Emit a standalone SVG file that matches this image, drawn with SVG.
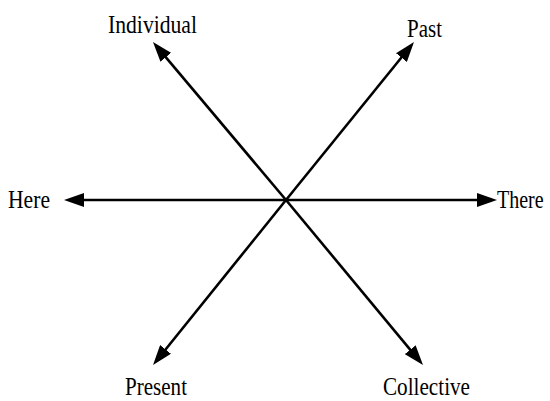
<svg xmlns="http://www.w3.org/2000/svg" width="550" height="401" viewBox="0 0 550 401">
<style>
.lbl{font-family:"Liberation Serif","Times New Roman",serif;font-size:25px;fill:#000}
.ax{stroke:#000;stroke-width:2.6;fill:none;marker-end:url(#ah)}
</style>
<defs>
<marker id="ah" markerUnits="userSpaceOnUse" markerWidth="20" markerHeight="14" refX="10" refY="7" orient="auto" viewBox="0 0 20 14">
<path d="M0,0 L20,7 L0,14 z" fill="#000"/>
</marker>
</defs>
<rect width="550" height="401" fill="#fff"/>
<g id="connectors">
<line class="ax" x1="286" y1="200" x2="159.4" y2="49.7"/>
<line class="ax" x1="286" y1="200" x2="407.7" y2="49.8"/>
<line class="ax" x1="286" y1="200" x2="74" y2="200"/>
<line class="ax" x1="286" y1="200" x2="487" y2="200"/>
<line class="ax" x1="286" y1="200" x2="159.3" y2="357.2"/>
<line class="ax" x1="286" y1="200" x2="416.6" y2="357.3"/>
</g>
<g id="individual"><text class="lbl" x="108" y="33" textLength="89" lengthAdjust="spacingAndGlyphs">Individual</text></g>
<g id="past"><text class="lbl" x="407" y="37" textLength="35" lengthAdjust="spacingAndGlyphs">Past</text></g>
<g id="here"><text class="lbl" x="8" y="208" textLength="42" lengthAdjust="spacingAndGlyphs">Here</text></g>
<g id="there"><text class="lbl" transform="translate(497,208) scale(0.8,1)" x="0" y="0">There</text></g>
<g id="present"><text class="lbl" x="125" y="395" textLength="62" lengthAdjust="spacingAndGlyphs">Present</text></g>
<g id="collective"><text class="lbl" x="383" y="395" textLength="87" lengthAdjust="spacingAndGlyphs">Collective</text></g>
</svg>
